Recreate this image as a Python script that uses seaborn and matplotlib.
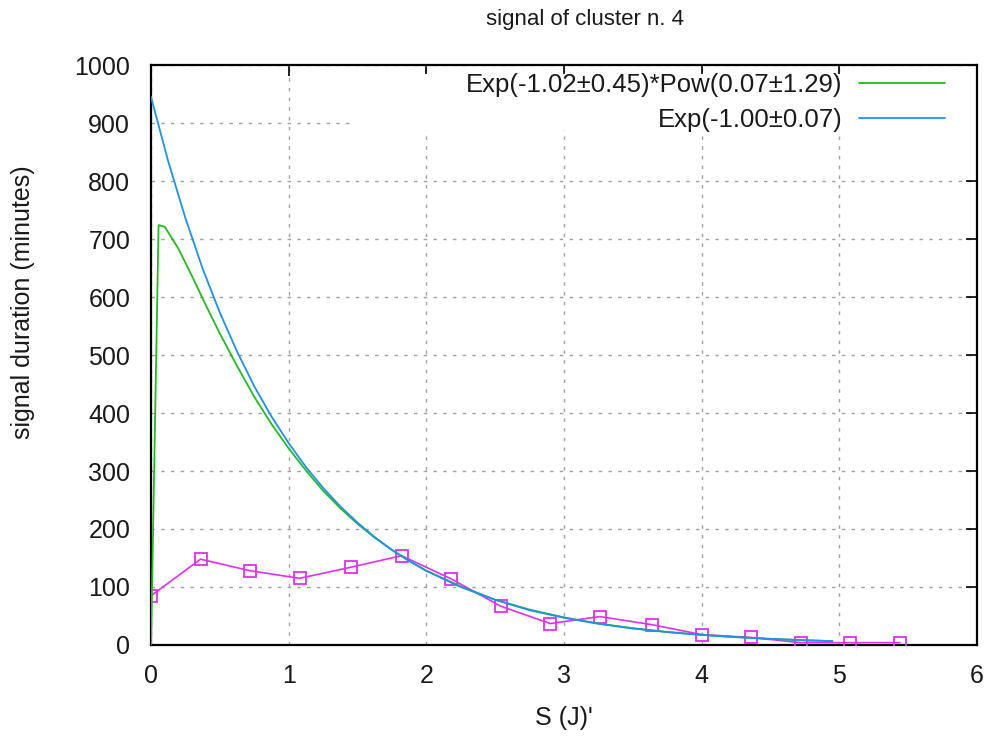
import matplotlib
matplotlib.use("Agg")
import matplotlib.pyplot as plt
import seaborn as sns
import pandas as pd
from matplotlib.lines import Line2D
from matplotlib.patches import Rectangle

# ---- data ----
data_x = [0.0, 0.36, 0.72, 1.08, 1.45, 1.82, 2.18, 2.54, 2.90, 3.26, 3.64, 4.00, 4.36, 4.72, 5.08, 5.44]
data_y = [85, 148, 128, 115, 134, 154, 114, 67, 37, 49, 35, 18, 13, 4, 4, 4]

fit1_x = [0.0, 0.055, 0.1, 0.2, 0.3, 0.4, 0.5, 0.625, 0.75, 0.875, 1.0, 1.125, 1.25, 1.375, 1.5,
          1.625, 1.75, 1.875, 2.0, 2.25, 2.5, 2.75, 3.0, 3.25, 3.5, 3.75, 4.0, 4.25, 4.5, 4.75, 4.95]
fit1_y = [0, 724, 721, 683, 635, 585, 537, 481, 428, 381, 339, 301, 266, 236, 209,
          185, 164, 145, 128, 101, 78, 61, 47.6, 37, 28.9, 22.5, 17.5, 13.6, 10.6, 8.2, 6.7]

fit2_x = [0.0, 0.125, 0.25, 0.375, 0.5, 0.625, 0.75, 0.875, 1.0, 1.125, 1.25, 1.375, 1.5,
          1.625, 1.75, 1.875, 2.0, 2.25, 2.5, 2.75, 3.0, 3.25, 3.5, 3.75, 4.0, 4.25, 4.5, 4.75, 4.95]
fit2_y = [945, 834, 736, 649, 573, 506, 446, 394, 348, 307, 271, 239, 211,
          186, 164, 145, 128, 100, 78, 60, 47, 36.6, 28.5, 22.2, 17.3, 13.5, 10.5, 8.2, 6.7]

x_ticks = [0, 1, 2, 3, 4, 5, 6]
y_ticks = [0, 100, 200, 300, 400, 500, 600, 700, 800, 900, 1000]

label1 = "Exp(-1.02±0.45)*Pow(0.07±1.29)"
label2 = "Exp(-1.00±0.07)"

sns.set_style("white")
plt.rcParams['font.family'] = ['Liberation Sans', 'DejaVu Sans']
txt_color = "#1a1a1a"

fig = plt.figure(figsize=(9.87, 7.36), dpi=100)
ax = fig.add_axes([151/987, 1 - 645/736, (977-151)/987, (645-65)/736])

c_data = "#e030f0"
c_g = "#22bb22"
c_b = "#2090f0"

df_d = pd.DataFrame({"x": data_x, "y": data_y})
df_1 = pd.DataFrame({"x": fit1_x, "y": fit1_y})
df_2 = pd.DataFrame({"x": fit2_x, "y": fit2_y})

sns.lineplot(data=df_d, x="x", y="y", ax=ax, color=c_data, lw=1.2, marker="s", markersize=9,
             markerfacecolor="none", markeredgecolor=c_data, markeredgewidth=1.3,
             sort=False, estimator=None, zorder=3)
sns.lineplot(data=df_1, x="x", y="y", ax=ax, color=c_g, lw=1.3, sort=False, estimator=None, zorder=4)
sns.lineplot(data=df_2, x="x", y="y", ax=ax, color=c_b, lw=1.3, sort=False, estimator=None, zorder=5)

ax.set_xlim(0, 6)
ax.set_ylim(0, 1000)
ax.set_xticks(x_ticks)
ax.set_yticks(y_ticks)
ax.set_xticklabels([str(v) for v in x_ticks])
ax.set_yticklabels([str(v) for v in y_ticks])
ax.tick_params(direction="in", length=8, width=1.2, top=True, right=True,
               labelsize=18, color="black", labelcolor=txt_color)
ax.tick_params(axis="y", pad=15)
ax.tick_params(axis="x", pad=13.5)
ax.grid(True, color="#a0a0a0", linestyle=(0, (2.5, 4.5)), linewidth=1.0)
for s in ax.spines.values():
    s.set_linewidth(1.6)
    s.set_color("black")

# white key area (as the reference key box hides the grid there)
ax.add_patch(Rectangle(((350-151)/826, (645-130)/580), 1 - (350-151)/826, (130-74)/580,
                       transform=ax.transAxes, facecolor="white", edgecolor="none", zorder=1))

ax.set_xlabel("S (J)'", fontsize=18, color=txt_color)
ax.xaxis.set_label_coords(0.5, -(718-645)/580)
ax.xaxis.label.set_va("center")
ax.set_ylabel("signal duration (minutes)", fontsize=18, color=txt_color)
ax.yaxis.set_label_coords((23-151)/826, (645-302)/580)
ax.yaxis.label.set_va("center")
fig.text(585/987, 1 - 19/736, "signal of cluster n. 4", ha="center", va="center",
         fontsize=16, color=txt_color)

handles = [Line2D([], [], color=c_g, lw=1.3), Line2D([], [], color=c_b, lw=1.3)]
leg = ax.legend(handles, [label1, label2], loc="upper right", markerfirst=False,
                bbox_to_anchor=((945-151)/826, (645-73)/580),
                frameon=False, fontsize=18.5, handlelength=3.35, handletextpad=0.65,
                labelspacing=0.44, borderaxespad=0.0, borderpad=0.0,
                labelcolor=txt_color)
leg.set_zorder(10)

fig.savefig("out.png", dpi=100)
